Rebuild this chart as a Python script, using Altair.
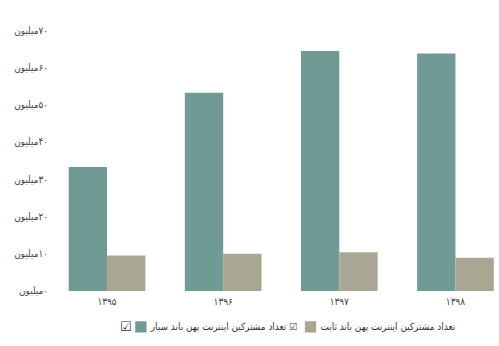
import altair as alt
import pandas as pd

years = ["۱۳۹۵", "۱۳۹۶", "۱۳۹۷", "۱۳۹۸"]
series = ["تعداد مشترکین اینترنت پهن باند سیار", "تعداد مشترکین اینترنت پهن باند ثابت"]
mobile = [33.3, 53.2, 64.4, 63.7]   # million
fixed = [9.5, 10.0, 10.4, 8.9]      # million
y_ticks = [0, 10, 20, 30, 40, 50, 60, 70]
y_digits = ["۰", "۱۰", "۲۰", "۳۰", "۴۰", "۵۰", "۶۰", "۷۰"]
colors = ["#709b95", "#a9a693"]

LRM = "\u200e"
y_labels = ["میلیون" + LRM + d for d in y_digits]

rows = []
for i, yr in enumerate(years):
    rows.append({"year": yr, "series": series[0], "value": mobile[i]})
    rows.append({"year": yr, "series": series[1], "value": fixed[i]})
df = pd.DataFrame(rows)

label_array = "[" + ",".join("'" + s + "'" for s in y_labels) + "]"
y_label_expr = label_array + "[round(datum.value/10)]"
legend_label_expr = "datum.label == '" + series[0] + "' ? datum.label + '  ☑' : datum.label"

FONT = "DejaVu Sans Condensed"

chart = alt.Chart(df).mark_bar().encode(
    x=alt.X("year:N", sort=years, title=None,
            scale=alt.Scale(paddingInner=0.34, paddingOuter=0.045),
            axis=alt.Axis(labelAngle=0, domain=False, ticks=False, labelPadding=6,
                          labelFontSize=10, labelColor="#444", labelFont=FONT)),
    xOffset=alt.XOffset("series:N", sort=series,
                        scale=alt.Scale(paddingInner=0, paddingOuter=0)),
    y=alt.Y("value:Q", title=None,
            scale=alt.Scale(domain=[0, 70], nice=False),
            axis=alt.Axis(values=y_ticks, labelExpr=y_label_expr, grid=False,
                          domain=False, ticks=False, labelPadding=16,
                          labelFontSize=10, labelColor="#444", labelFont=FONT)),
    color=alt.Color("series:N", sort=series,
                    scale=alt.Scale(domain=series, range=colors),
                    legend=alt.Legend(orient="none", legendX=57, legendY=293,
                                      direction="horizontal", title="☑",
                                      titleOrient="left",
                                      titleFontSize=13, titleFontWeight="normal",
                                      titleColor="#333", titlePadding=3,
                                      titleBaseline="middle", titleFont="DejaVu Sans",
                                      symbolType="square", symbolSize=130,
                                      symbolStrokeWidth=0, symbolOpacity=1,
                                      labelExpr=legend_label_expr,
                                      labelFontSize=10, labelColor="#333",
                                      labelFont=FONT, labelLimit=400,
                                      columnPadding=4, labelOffset=4)),
).properties(
    width=439, height=263,
    padding={"left": 13, "top": 24, "right": 0, "bottom": 3},
).configure_view(stroke=None)

chart.save("out.html", embed_options={"renderer": "svg", "actions": False})
